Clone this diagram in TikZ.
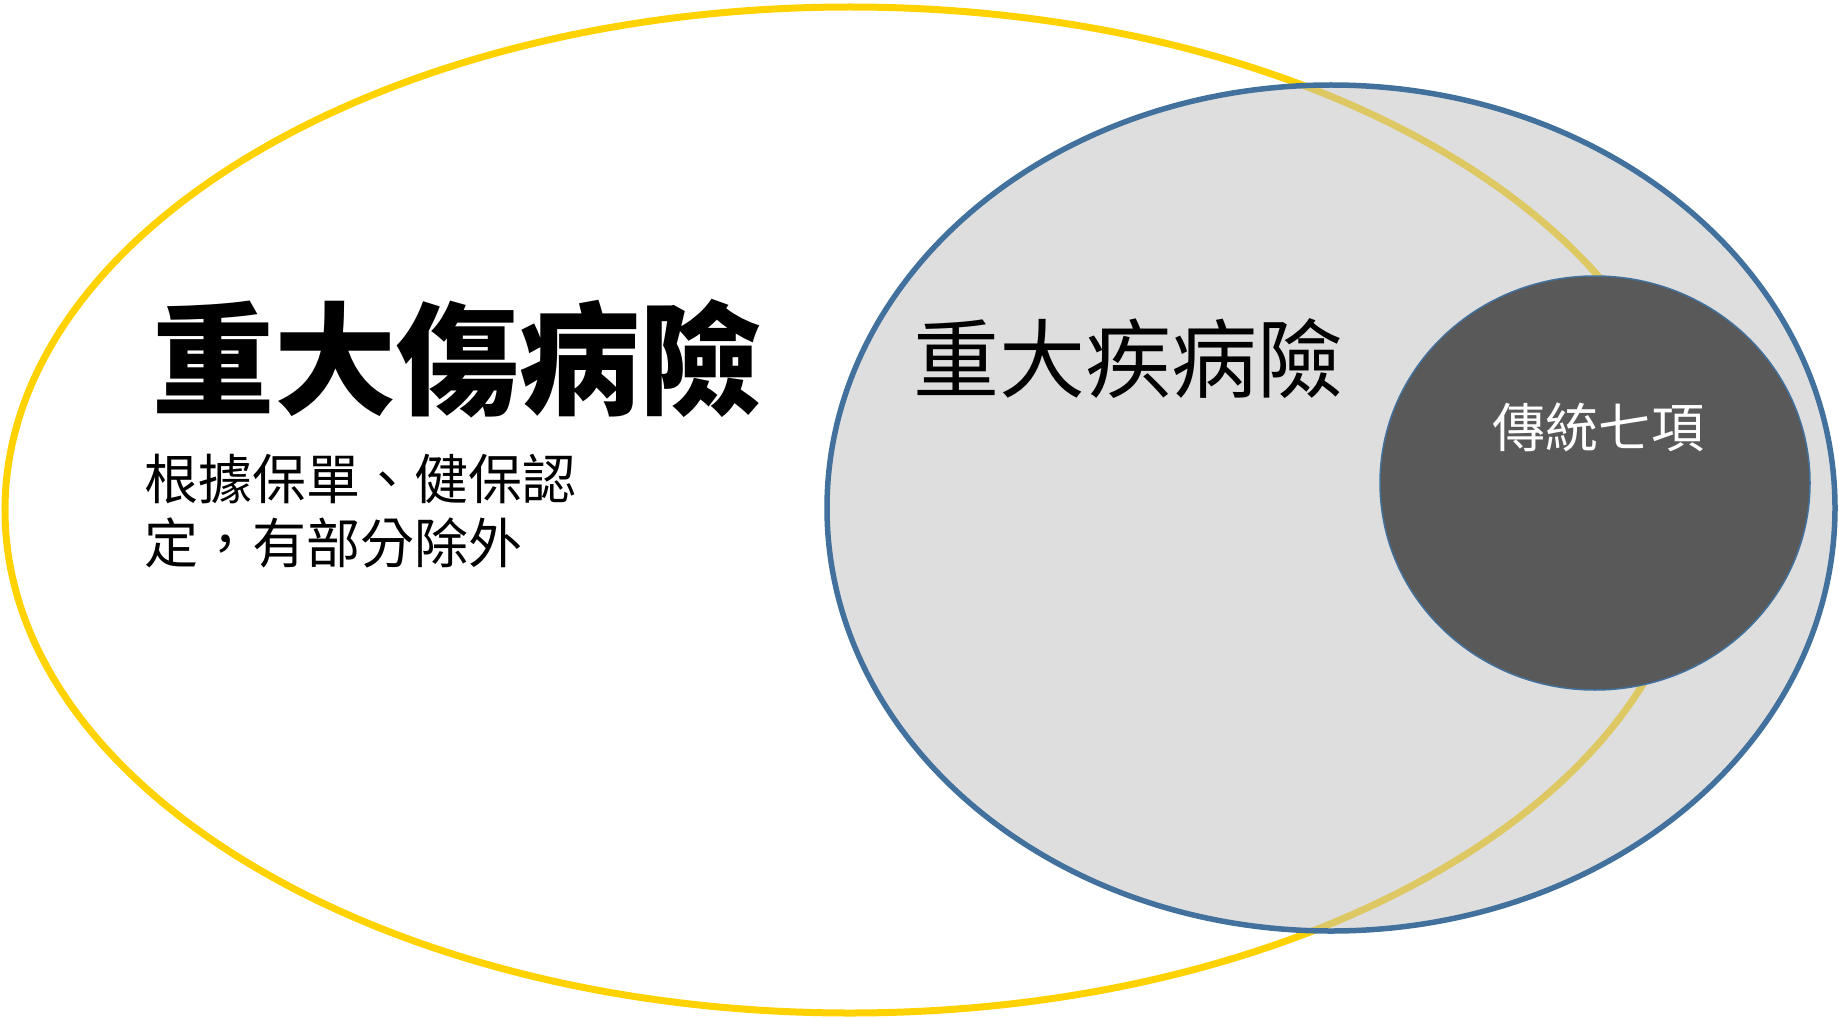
\documentclass[tikz,border=0pt]{standalone}
\usepackage{fontspec}
\newfontfamily\cjk{Noto Sans CJK TC}
\usetikzlibrary{shapes.geometric}
\definecolor{ygold}{RGB}{255,210,0}
\definecolor{sblue}{RGB}{65,113,156}
\definecolor{sgray}{RGB}{192,192,192}
\definecolor{dgray}{RGB}{89,89,89}
\tikzset{
  txt/.style={inner sep=0pt, font=\cjk},
}
\begin{document}
\begin{tikzpicture}[x=1pt,y=-1pt]
\useasboundingbox (0,0) rectangle (1839,1019);
% outer yellow ellipse
\draw[ygold, line width=7pt] (850,510) ellipse [x radius=845, y radius=503];
% gray blue ellipse
\fill[sgray, fill opacity=0.52] (1331,508) ellipse [x radius=504, y radius=423];
\draw[sblue, line width=5.5pt] (1331,508) ellipse [x radius=504, y radius=423];
% dark circle
\draw[sblue, line width=1.5pt, fill=dgray] (1595,483) ellipse [x radius=215, y radius=207];
% texts
\node[txt, font=\cjk\bfseries, anchor=center] (title) at (457,359) {\fontsize{122}{130}\selectfont 重大傷病險};
\node[txt, anchor=west] (sub1) at (144,479) {\fontsize{54}{60}\selectfont 根據保單、健保認};
\node[txt, anchor=west] (sub2) at (144,543) {\fontsize{54}{60}\selectfont 定，有部分除外};
\node[txt, anchor=center] (ci) at (1128,359) {\fontsize{86}{90}\selectfont 重大疾病險};
\node[txt, anchor=center, text=white] (seven) at (1598,427) {\fontsize{53}{60}\selectfont 傳統七項};
\end{tikzpicture}
\end{document}
